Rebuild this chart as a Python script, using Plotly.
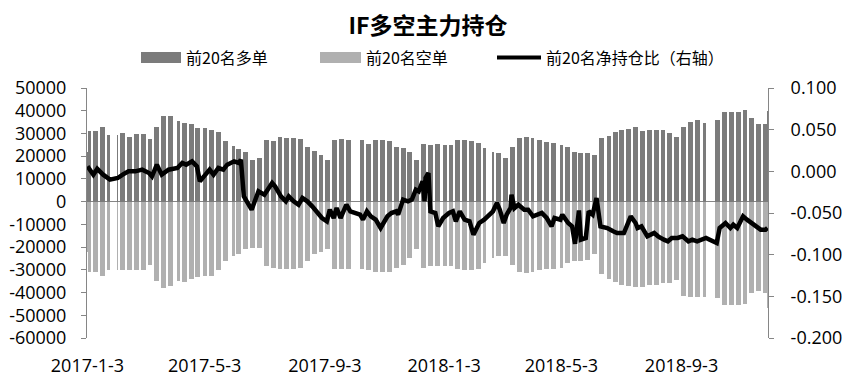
import numpy as np
import pandas as pd
import plotly.graph_objects as go

# ---------------- data ----------------
first_day, last_day = "2017-01-03", "2018-11-30"
holidays = [
    "2017-01-02", "2017-01-27", "2017-01-30", "2017-01-31", "2017-02-01", "2017-02-02",
    "2017-04-03", "2017-04-04", "2017-05-01", "2017-05-29", "2017-05-30",
    "2017-10-02", "2017-10-03", "2017-10-04", "2017-10-05", "2017-10-06",
    "2018-01-01", "2018-02-15", "2018-02-16", "2018-02-19", "2018-02-20", "2018-02-21",
    "2018-04-05", "2018-04-06", "2018-04-30", "2018-05-01", "2018-06-18", "2018-09-24",
    "2018-10-01", "2018-10-02", "2018-10-03", "2018-10-04", "2018-10-05",
]

# weekly readings (thousand lots), one per trading week
long_weekly = [
    31, 31, 33, 29.5, 29.5, 30, 28.5, 29.8, 29.8, 27.5,
    33, 37.5, 37.5, 35.5, 34.5, 34, 32.5, 32.5, 31.5, 30.5,
    26.5, 24.5, 23, 22, 18.5, 19.3, 27.3, 26.6, 28.5, 27.8,
    27.8, 27.5, 24, 22.5, 20.5, 18.5, 27, 27.5, 27,
    27, 25.5, 27, 27.3, 26.8, 24, 23.5, 22, 18.5, 25.5,
    25, 25.5, 25, 25, 27, 27, 26.5, 26, 23.5, 22,
    21.5, 19, 24, 28, 28.5, 28, 27, 26.4, 25.6, 25,
    24.2, 22, 21.2, 21.5, 20.5, 28, 29, 30.5, 31.5, 32,
    33, 31, 31.5, 31.5, 31.5, 30, 28.6, 33, 35.2, 35.9,
    34.4, 35.9, 39.6, 39.6, 39.6, 40.3, 37, 34, 34,
]
short_weekly = [
    -31, -31, -32.5, -30, -30, -30, -30, -30, -30, -28,
    -35, -38, -37, -35, -35.5, -34, -33, -32.5, -32.5, -30,
    -26, -24, -23, -21, -20.5, -20.5, -28.5, -29, -29.7, -29.7,
    -29.7, -29, -26, -23, -22, -21, -29.5, -29.7, -29.7,
    -29.7, -30, -30.8, -31, -31, -29, -28, -25, -21, -29,
    -28.3, -28.3, -28.3, -28.5, -29.5, -30, -30, -29.7, -27, -25,
    -24, -24, -28, -31, -31.2, -31, -30, -29.7, -29.5, -29.4,
    -27, -26, -26, -25.5, -23, -32, -34, -35.5, -36.5, -37,
    -37.4, -37.4, -36.7, -36.5, -36, -36, -34.5, -41.5, -42, -42,
    -42, -42.5, -45.5, -45.5, -45.5, -45, -40, -39.5, -40,
]
override_dates = ["2017-01-03", "2018-11-30"]
override_long = [22, 40]
override_short = [-22, -47]

line_dates = [
    "2017-01-03", "2017-01-06", "2017-01-09", "2017-01-13", "2017-01-19", "2017-01-26",
    "2017-02-03", "2017-02-08", "2017-02-14", "2017-02-21", "2017-02-28", "2017-03-07",
    "2017-03-10", "2017-03-15", "2017-03-20", "2017-03-27", "2017-04-05", "2017-04-10",
    "2017-04-14", "2017-04-20", "2017-04-25", "2017-04-28", "2017-05-08", "2017-05-12",
    "2017-05-17", "2017-05-22", "2017-05-26", "2017-06-02", "2017-06-07", "2017-06-09",
    "2017-06-12", "2017-06-20", "2017-06-23", "2017-06-27", "2017-07-03", "2017-07-07",
    "2017-07-11", "2017-07-14", "2017-07-20", "2017-07-25", "2017-07-28", "2017-08-02",
    "2017-08-07", "2017-08-11", "2017-08-16", "2017-08-21", "2017-08-25", "2017-08-31",
    "2017-09-05", "2017-09-08", "2017-09-12", "2017-09-15", "2017-09-19", "2017-09-25",
    "2017-09-29", "2017-10-09", "2017-10-12", "2017-10-16", "2017-10-20", "2017-10-25",
    "2017-10-30", "2017-11-06", "2017-11-10", "2017-11-15", "2017-11-17", "2017-11-22",
    "2017-11-27", "2017-12-01", "2017-12-05", "2017-12-08", "2017-12-12", "2017-12-14",
    "2017-12-15", "2017-12-18", "2017-12-20", "2017-12-25", "2017-12-28", "2018-01-02",
    "2018-01-08", "2018-01-12", "2018-01-15", "2018-01-19", "2018-01-24", "2018-01-29",
    "2018-02-02", "2018-02-08", "2018-02-13", "2018-02-22", "2018-02-26", "2018-03-01",
    "2018-03-05", "2018-03-08", "2018-03-12", "2018-03-13", "2018-03-16", "2018-03-20",
    "2018-03-26", "2018-03-30", "2018-04-04", "2018-04-09", "2018-04-13", "2018-04-18",
    "2018-04-23", "2018-04-26", "2018-05-02", "2018-05-04", "2018-05-10", "2018-05-14",
    "2018-05-17", "2018-05-21", "2018-05-23", "2018-05-28", "2018-05-31", "2018-06-04",
    "2018-06-08", "2018-06-12", "2018-06-19", "2018-06-25", "2018-06-29", "2018-07-06",
    "2018-07-13", "2018-07-18", "2018-07-20", "2018-07-24", "2018-07-30", "2018-08-06",
    "2018-08-10", "2018-08-16", "2018-08-20", "2018-08-24", "2018-08-30", "2018-09-04",
    "2018-09-10", "2018-09-14", "2018-09-19", "2018-09-28", "2018-10-09", "2018-10-12",
    "2018-10-18", "2018-10-23", "2018-10-26", "2018-10-30", "2018-11-05", "2018-11-09",
    "2018-11-14", "2018-11-19", "2018-11-23", "2018-11-28", "2018-11-30",
]
line_vals = [
    0.006, 0.000, -0.004, 0.003, -0.004, -0.010,
    -0.008, -0.004, 0.000, 0.000, 0.002, -0.002,
    -0.006, 0.008, -0.004, 0.002, 0.004, 0.010,
    0.008, 0.012, 0.006, -0.012, 0.002, -0.004,
    0.004, 0.002, 0.008, 0.012, 0.010, 0.014,
    -0.030, -0.046, -0.036, -0.024, -0.028, -0.020,
    -0.014, -0.018, -0.030, -0.036, -0.030, -0.036,
    -0.040, -0.032, -0.036, -0.042, -0.048, -0.056,
    -0.060, -0.046, -0.056, -0.044, -0.056, -0.040,
    -0.048, -0.052, -0.058, -0.048, -0.054, -0.058,
    -0.068, -0.054, -0.050, -0.048, -0.052, -0.034,
    -0.036, -0.034, -0.022, -0.024, -0.012, -0.036,
    -0.008, -0.002, -0.048, -0.050, -0.066, -0.056,
    -0.050, -0.048, -0.060, -0.048, -0.058, -0.060,
    -0.076, -0.062, -0.058, -0.048, -0.038, -0.046,
    -0.062, -0.052, -0.044, -0.028, -0.044, -0.040,
    -0.046, -0.046, -0.054, -0.052, -0.050, -0.056,
    -0.066, -0.056, -0.058, -0.052, -0.062, -0.066,
    -0.087, -0.047, -0.082, -0.080, -0.048, -0.052,
    -0.032, -0.066, -0.068, -0.072, -0.074, -0.074,
    -0.054, -0.062, -0.068, -0.066, -0.078, -0.074,
    -0.078, -0.082, -0.084, -0.080, -0.080, -0.078,
    -0.084, -0.082, -0.084, -0.080, -0.086, -0.068,
    -0.062, -0.068, -0.064, -0.068, -0.054, -0.058,
    -0.062, -0.066, -0.070, -0.070, -0.068,
]

x_tick_dates = ["2017-01-03", "2017-05-03", "2017-09-03", "2018-01-03", "2018-05-03", "2018-09-03"]
x_tick_text = ["2017-1-3", "2017-5-3", "2017-9-3", "2018-1-3", "2018-5-3", "2018-9-3"]
y_ticks = [50000, 40000, 30000, 20000, 10000, 0, -10000, -20000, -30000, -40000, -50000, -60000]
y_tick_text = ["50000", "40000", "30000", "20000", "10000", "0", "-10000", "-20000",
               "-30000", "-40000", "-50000", "-60000"]
y2_ticks = [0.1, 0.05, 0.0, -0.05, -0.1, -0.15, -0.2]
y2_tick_text = ["0.100", "0.050", "0.000", "-0.050", "-0.100", "-0.150", "-0.200"]

names = ["前20名多单", "前20名空单", "前20名净持仓比（右轴）"]
title = "IF多空主力持仓"

# ---------------- build daily series ----------------
days = pd.bdate_range(first_day, last_day)
days = days[~days.isin(pd.to_datetime(holidays))]
codes, weeks = pd.factorize(days.to_period("W"))
assert len(weeks) == len(long_weekly) == len(short_weekly)
long_daily = np.array(long_weekly, dtype=float)[codes] * 1000
short_daily = np.array(short_weekly, dtype=float)[codes] * 1000
for d, lv, sv in zip(override_dates, override_long, override_short):
    i = days.get_loc(pd.Timestamp(d))
    long_daily[i] = lv * 1000
    short_daily[i] = sv * 1000

DARK = "rgba(123,123,123,0.999)"
LIGHT = "rgba(176,176,176,0.999)"
AX = "#868686"
NUMFONT = "Open Sans"
CJK = "Noto Sans CJK SC"
day_ms = 86400000

fig = go.Figure()
fig.add_trace(go.Bar(x=days, y=long_daily, name=names[0], marker_color=DARK,
                     marker_line_width=0, width=day_ms * 1.0, yaxis="y"))
fig.add_trace(go.Bar(x=days, y=short_daily, name=names[1], marker_color=LIGHT,
                     marker_line_width=0, width=day_ms * 1.0, yaxis="y"))
fig.add_trace(go.Scatter(x=pd.to_datetime(line_dates), y=line_vals, name=names[2], mode="lines",
                         line=dict(color="black", width=4.5), yaxis="y2"))

# the page body has an 8px margin: the figure is 8px smaller and everything is
# positioned in page pixels minus that offset
OFF = 8
W, H = 853 - OFF, 387 - OFF
L, R, T, B = 87 - OFF, 85, 88 - OFF, 49
pw, ph = W - L - R, H - T - B

def px(x):
    return (x - OFF - L) / pw

def py(y):
    return (H - B - (y - OFF)) / ph

shapes = [
    dict(type="rect", xref="paper", yref="paper", x0=px(141), x1=px(181), y0=py(63), y1=py(52),
         fillcolor="#7b7b7b", line_width=0),
    dict(type="rect", xref="paper", yref="paper", x0=px(320), x1=px(361), y0=py(63), y1=py(52),
         fillcolor="#b0b0b0", line_width=0),
    dict(type="line", xref="paper", yref="paper", x0=px(497), x1=px(541), y0=py(57.5), y1=py(57.5),
         line=dict(color="black", width=4)),
]
annotations = [
    dict(text=names[0], x=px(184), y=py(57.5), xref="paper", yref="paper", xanchor="left",
         yanchor="middle", showarrow=False, font=dict(family=CJK, size=16, color="black")),
    dict(text=names[1], x=px(364), y=py(57.5), xref="paper", yref="paper", xanchor="left",
         yanchor="middle", showarrow=False, font=dict(family=CJK, size=16, color="black")),
    dict(text=names[2], x=px(544), y=py(57.5), xref="paper", yref="paper", xanchor="left",
         yanchor="middle", showarrow=False, font=dict(family=CJK, size=16, color="black")),
]

fig.update_layout(
    width=W, height=H,
    margin=dict(l=L, r=R, t=T, b=B, autoexpand=False),
    paper_bgcolor="white", plot_bgcolor="white",
    barmode="overlay", bargap=0,
    showlegend=False,
    title=dict(text="<b>" + title + "</b>", x=(428 - OFF) / W, xanchor="center",
               y=1 - (26 - OFF) / H, yanchor="middle",
               font=dict(family=CJK, size=23, color="black")),
    xaxis=dict(type="date", range=["2017-01-02 12:00", "2018-11-30 12:00"], automargin=False,
               tickvals=x_tick_dates, ticktext=x_tick_text, showgrid=False, showline=False,
               zeroline=False, ticks="", ticklabelstandoff=15,
               tickfont=dict(family=NUMFONT, size=18, color="black")),
    yaxis=dict(range=[-60000, 50000], tickvals=y_ticks, ticktext=y_tick_text, showgrid=False,
               automargin=False,
               showline=True, linecolor=AX, linewidth=1, ticks="outside", ticklen=5, tickcolor=AX,
               zeroline=True, zerolinecolor=AX, zerolinewidth=1, ticklabelstandoff=11,
               tickfont=dict(family=NUMFONT, size=18, color="black")),
    yaxis2=dict(range=[-0.2, 0.1], overlaying="y", side="right", tickvals=y2_ticks,
                automargin=False,
                ticktext=y2_tick_text, showgrid=False, showline=True, linecolor=AX, linewidth=1,
                ticks="outside", ticklen=5, tickcolor=AX, zeroline=False, ticklabelstandoff=13,
                tickfont=dict(family=NUMFONT, size=18, color="black")),
    shapes=shapes,
    annotations=annotations,
)

fig.write_html("out.html")
